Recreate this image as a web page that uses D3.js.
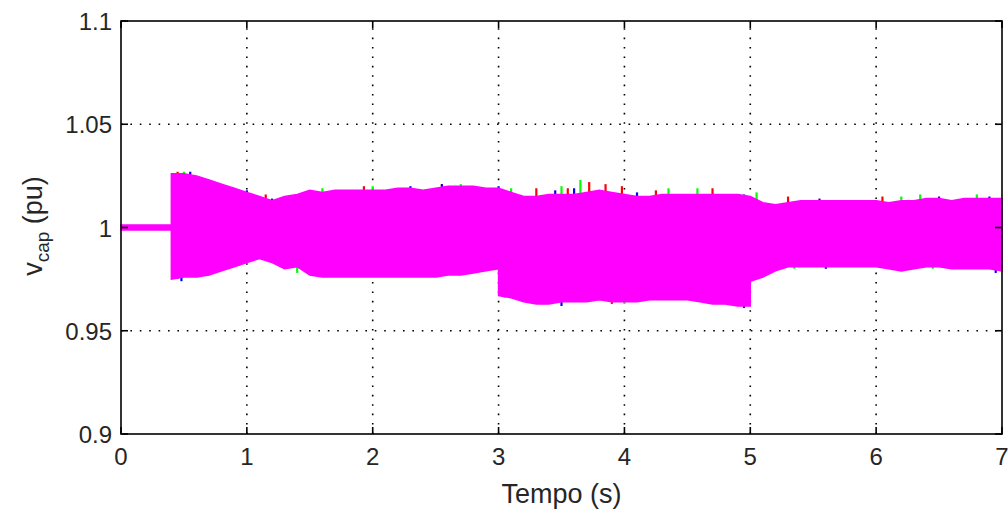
<!DOCTYPE html>
<html>
<head>
<meta charset="utf-8">
<script src="https://cdn.jsdelivr.net/npm/d3@7"></script>
<style>
  html, body { margin: 0; padding: 0; background: #fff; }
  svg { display: block; }
  text { font-family: "Liberation Sans", Arial, sans-serif; fill: #262626; }
</style>
</head>
<body>
<svg id="chart" width="1008" height="511"></svg>
<script>
// ---- data ----
const xTicks = [0, 1, 2, 3, 4, 5, 6, 7];
const yTicks = [0.9, 0.95, 1, 1.05, 1.1];
const yTickLabels = ["0.9", "0.95", "1", "1.05", "1.1"];

// envelope of the oscillating capacitor voltages (pu)
const envTime = [0, 0.1, 0.2, 0.3, 0.4, 0.4, 0.5, 0.6, 0.7, 0.8, 0.9, 1.0, 1.1, 1.2, 1.3, 1.4, 1.5, 1.6, 1.7, 1.8, 1.9,
  2.0, 2.1, 2.2, 2.3, 2.4, 2.5, 2.6, 2.7, 2.8, 2.9, 3.0, 3.0, 3.1, 3.2, 3.3, 3.4, 3.5, 3.6, 3.7, 3.8, 3.9,
  4.0, 4.1, 4.2, 4.3, 4.4, 4.5, 4.6, 4.7, 4.8, 4.9, 5.0, 5.0, 5.1, 5.2, 5.3, 5.4, 5.5, 5.6, 5.7, 5.8, 5.9,
  6.0, 6.1, 6.2, 6.3, 6.4, 6.5, 6.6, 6.7, 6.8, 6.9, 7.0];
const envUpper = [1.0012, 1.0012, 1.0012, 1.0012, 1.0012, 1.026, 1.026, 1.025, 1.023, 1.021, 1.019, 1.017, 1.015, 1.013, 1.015, 1.016, 1.018, 1.017, 1.018, 1.018, 1.018,
  1.018, 1.018, 1.019, 1.019, 1.018, 1.019, 1.020, 1.020, 1.020, 1.019, 1.019, 1.019, 1.017, 1.015, 1.015, 1.016, 1.016, 1.016, 1.017, 1.018, 1.017,
  1.016, 1.015, 1.015, 1.016, 1.016, 1.016, 1.016, 1.016, 1.016, 1.016, 1.015, 1.015, 1.012, 1.011, 1.012, 1.013, 1.013, 1.013, 1.013, 1.013, 1.013,
  1.013, 1.012, 1.013, 1.013, 1.014, 1.014, 1.013, 1.014, 1.014, 1.014, 1.014];
const envLower = [0.9988, 0.9988, 0.9988, 0.9988, 0.9988, 0.975, 0.976, 0.976, 0.977, 0.979, 0.981, 0.983, 0.985, 0.983, 0.980, 0.981, 0.977, 0.976, 0.976, 0.976, 0.976,
  0.976, 0.976, 0.976, 0.976, 0.976, 0.976, 0.977, 0.977, 0.978, 0.979, 0.980, 0.967, 0.966, 0.964, 0.963, 0.963, 0.964, 0.964, 0.964, 0.965, 0.964,
  0.964, 0.964, 0.965, 0.965, 0.965, 0.965, 0.964, 0.963, 0.963, 0.962, 0.962, 0.974, 0.976, 0.979, 0.981, 0.981, 0.981, 0.981, 0.981, 0.981, 0.981,
  0.981, 0.980, 0.979, 0.980, 0.981, 0.981, 0.980, 0.980, 0.980, 0.980, 0.979];

// phase peaks that stick out of the magenta band (time s, value pu)
const redPeakT   = [0.45, 1.15, 1.93, 2.55, 3.30, 3.55, 3.72, 3.85, 3.98, 4.25, 4.70, 5.30, 6.05];
const redPeakV   = [1.027, 1.016, 1.020, 1.021, 1.019, 1.019, 1.022, 1.021, 1.020, 1.018, 1.019, 1.015, 1.015];
const greenPeakT = [0.50, 1.60, 2.00, 2.70, 3.10, 3.50, 3.65, 4.35, 4.58, 5.05, 6.20, 6.35, 6.80];
const greenPeakV = [1.027, 1.019, 1.020, 1.021, 1.019, 1.020, 1.023, 1.019, 1.019, 1.017, 1.015, 1.016, 1.016];
const bluePeakT  = [0.55, 1.00, 1.20, 2.30, 2.55, 3.00, 3.45, 3.60, 4.10, 4.95, 5.55, 6.50, 6.90];
const bluePeakV  = [1.027, 1.018, 1.014, 1.020, 1.021, 1.020, 1.018, 1.019, 1.017, 1.016, 1.014, 1.015, 1.015];
const greenDipT  = [0.45, 1.40, 3.05, 4.00, 4.90, 5.35, 6.45];
const greenDipV  = [0.975, 0.978, 0.966, 0.963, 0.962, 0.980, 0.980];
const blueDipT   = [0.48, 3.50, 4.95, 5.60, 6.95];
const blueDipV   = [0.974, 0.962, 0.961, 0.980, 0.978];
const redDipT    = [3.90, 4.70];
const redDipV    = [0.963, 0.963];

// ---- layout ----
const svg = d3.select("#chart");
const L = 121, T = 21, R = 1002, B = 434;
const x = d3.scaleLinear().domain([0, 7]).range([L, R]);
const y = d3.scaleLinear().domain([0.9, 1.1]).range([B, T]);

// grid
const grid = svg.append("g").attr("stroke", "#000").attr("stroke-width", 1.6)
  .attr("stroke-dasharray", "1.6,7.8");
xTicks.slice(1, -1).forEach(t => grid.append("line")
  .attr("x1", x(t)).attr("x2", x(t)).attr("y1", B).attr("y2", T));
yTicks.slice(1, -1).forEach(v => grid.append("line")
  .attr("x1", L).attr("x2", R).attr("y1", y(v)).attr("y2", y(v)));

// colored spikes (drawn under the magenta band, anchored inside it)
function spikes(ts, vs, color) {
  const g = svg.append("g").attr("stroke", color).attr("stroke-width", 2.2);
  ts.forEach((t, i) => {
    g.append("line").attr("x1", x(t)).attr("x2", x(t))
      .attr("y1", y(vs[i])).attr("y2", y(1));
  });
}
spikes(redPeakT, redPeakV, "#ff0000");
spikes(greenPeakT, greenPeakV, "#00ff00");
spikes(bluePeakT, bluePeakV, "#0000ff");
spikes(greenDipT, greenDipV, "#00ff00");
spikes(blueDipT, blueDipV, "#0000ff");
spikes(redDipT, redDipV, "#ff0000");

// magenta band
const idx = d3.range(envTime.length);
const area = d3.area()
  .x(i => x(envTime[i]))
  .y0(i => y(envLower[i]))
  .y1(i => y(envUpper[i]));
svg.append("path").datum(idx).attr("d", area)
  .attr("fill", "#ff00ff").attr("stroke", "#ff00ff").attr("stroke-width", 1.5);

// axes box
svg.append("rect").attr("x", L).attr("y", T).attr("width", R - L).attr("height", B - T)
  .attr("fill", "none").attr("stroke", "#000").attr("stroke-width", 1.6);

// ticks
const tk = svg.append("g").attr("stroke", "#000").attr("stroke-width", 1.6);
xTicks.forEach(t => {
  tk.append("line").attr("x1", x(t)).attr("x2", x(t)).attr("y1", B).attr("y2", B - 7);
  tk.append("line").attr("x1", x(t)).attr("x2", x(t)).attr("y1", T).attr("y2", T + 7);
});
yTicks.forEach(v => {
  tk.append("line").attr("x1", L).attr("x2", L + 7).attr("y1", y(v)).attr("y2", y(v));
  tk.append("line").attr("x1", R).attr("x2", R - 7).attr("y1", y(v)).attr("y2", y(v));
});

// tick labels
svg.append("g").selectAll("text").data(xTicks).join("text")
  .attr("x", d => x(d)).attr("y", 465).attr("text-anchor", "middle")
  .attr("font-size", 24).text(d => d);
svg.append("g").selectAll("text").data(yTicks).join("text")
  .attr("x", 112).attr("y", d => y(d) + 9).attr("text-anchor", "end")
  .attr("font-size", 24).text((d, i) => yTickLabels[i]);

// axis titles
svg.append("text").attr("x", x(3.5)).attr("y", 503).attr("text-anchor", "middle")
  .attr("font-size", 27).text("Tempo (s)");
const yl = svg.append("text").attr("transform", "translate(42,226) rotate(-90)")
  .attr("text-anchor", "middle").attr("font-size", 27);
yl.append("tspan").text("v");
yl.append("tspan").attr("font-size", 19).attr("dy", 7).text("cap");
yl.append("tspan").attr("dy", -7).text(" (pu)");
</script>
</body>
</html>
